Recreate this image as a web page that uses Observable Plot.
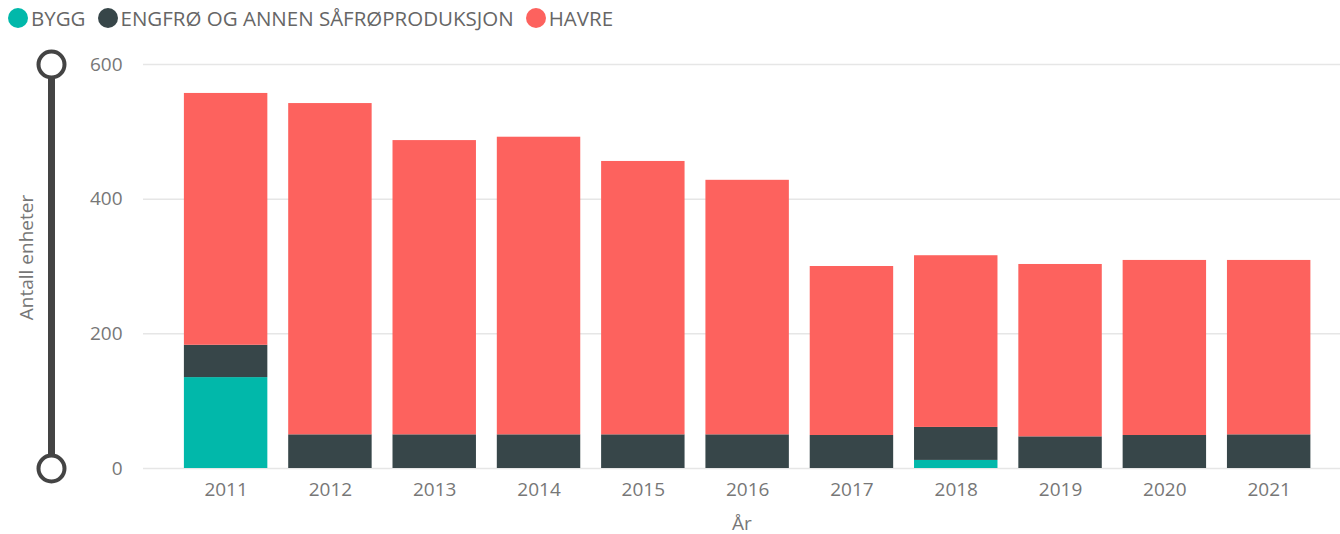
<!DOCTYPE html>
<html>
<head>
<meta charset="utf-8">
<script src="https://cdn.jsdelivr.net/npm/d3@7"></script>
<script src="https://cdn.jsdelivr.net/npm/@observablehq/plot@0.6"></script>
<style>
  html, body { margin: 0; padding: 0; background: #fff; }
  body { width: 1340px; height: 534px; overflow: hidden; font-family: "Open Sans", "Noto Sans", sans-serif; }
  #legend { height: 36px; display: flex; align-items: center; padding-left: 8px; box-sizing: border-box; font-size: 20.5px; color: #666; white-space: nowrap; }
  .item { display: flex; align-items: center; margin-right: 12px; }
  .sw { width: 20px; height: 20px; border-radius: 50%; margin-right: 3px; }
</style>
</head>
<body>
<div id="legend"></div>
<div id="chart"></div>
<script>
const years = ["2011","2012","2013","2014","2015","2016","2017","2018","2019","2020","2021"];
const seriesNames = ["BYGG", "ENGFRØ OG ANNEN SÅFRØPRODUKSJON", "HAVRE"];
const seriesColors = ["#01B8AA", "#374649", "#FD625E"];
const bygg   = [135, 0, 0, 0, 0, 0, 0, 12, 0, 0, 0];
const engfro = [48, 50, 50, 50, 50, 50, 49, 49, 47, 49, 50];
const havre  = [374, 492, 437, 442, 406, 378, 251, 255, 256, 260, 259];
const yTicks = [0, 200, 400, 600];

const seriesValues = [bygg, engfro, havre];
const data = [];
seriesNames.forEach((s, si) => years.forEach((yr, i) => data.push({year: yr, series: s, value: seriesValues[si][i]})));

// legend
const legend = document.getElementById("legend");
seriesNames.forEach((s, i) => {
  const it = document.createElement("div"); it.className = "item";
  const sw = document.createElement("div"); sw.className = "sw"; sw.style.background = seriesColors[i];
  const t = document.createElement("span"); t.textContent = s;
  it.appendChild(sw); it.appendChild(t); legend.appendChild(it);
});

const W = 1340, H = 498, ML = 143, MR = 0, MT = 28, MB = 66;
const plot = Plot.plot({
  width: W, height: H,
  marginLeft: ML, marginRight: MR, marginTop: MT, marginBottom: MB,
  style: { fontFamily: "'Open Sans', 'Noto Sans', sans-serif", fontSize: "19px", color: "#777", background: "#fff" },
  x: { type: "band", domain: years, paddingInner: 0.2, paddingOuter: 0.338, align: 0.58, round: false, label: null },
  y: { domain: [0, 600], label: null },
  color: { domain: seriesNames, range: seriesColors },
  marks: [
    Plot.gridY(yTicks, { stroke: "#e6e6e6", strokeOpacity: 1, strokeWidth: 1.5 }),
    Plot.barY(data, Plot.stackY({ x: "year", y: "value", fill: "series", order: seriesNames })),
    Plot.axisX({ tickSize: 0, tickPadding: 14, fill: "#777", label: null }),
    Plot.axisY(yTicks, { tickSize: 0, tickPadding: 21, fill: "#777", label: null }),
    Plot.text(["Antall enheter"], { frameAnchor: "left", rotate: -90, dx: -117, dy: -9, fill: "#777", fontSize: 19, textAnchor: "middle" }),
    Plot.text(["År"], { frameAnchor: "bottom", dy: 61, fill: "#777", fontSize: 19, textAnchor: "middle" }),
    Plot.ruleX([0], { x: null, y1: 0, y2: 600, stroke: "#444", strokeWidth: 7, dx: 51 - (ML + W - MR) / 2 }),
    Plot.dot([0, 600], { y: d => d, frameAnchor: "left", dx: -92, r: 13, stroke: "#444", strokeWidth: 4, fill: "white" })
  ]
});
document.getElementById("chart").appendChild(plot);
</script>
</body>
</html>
